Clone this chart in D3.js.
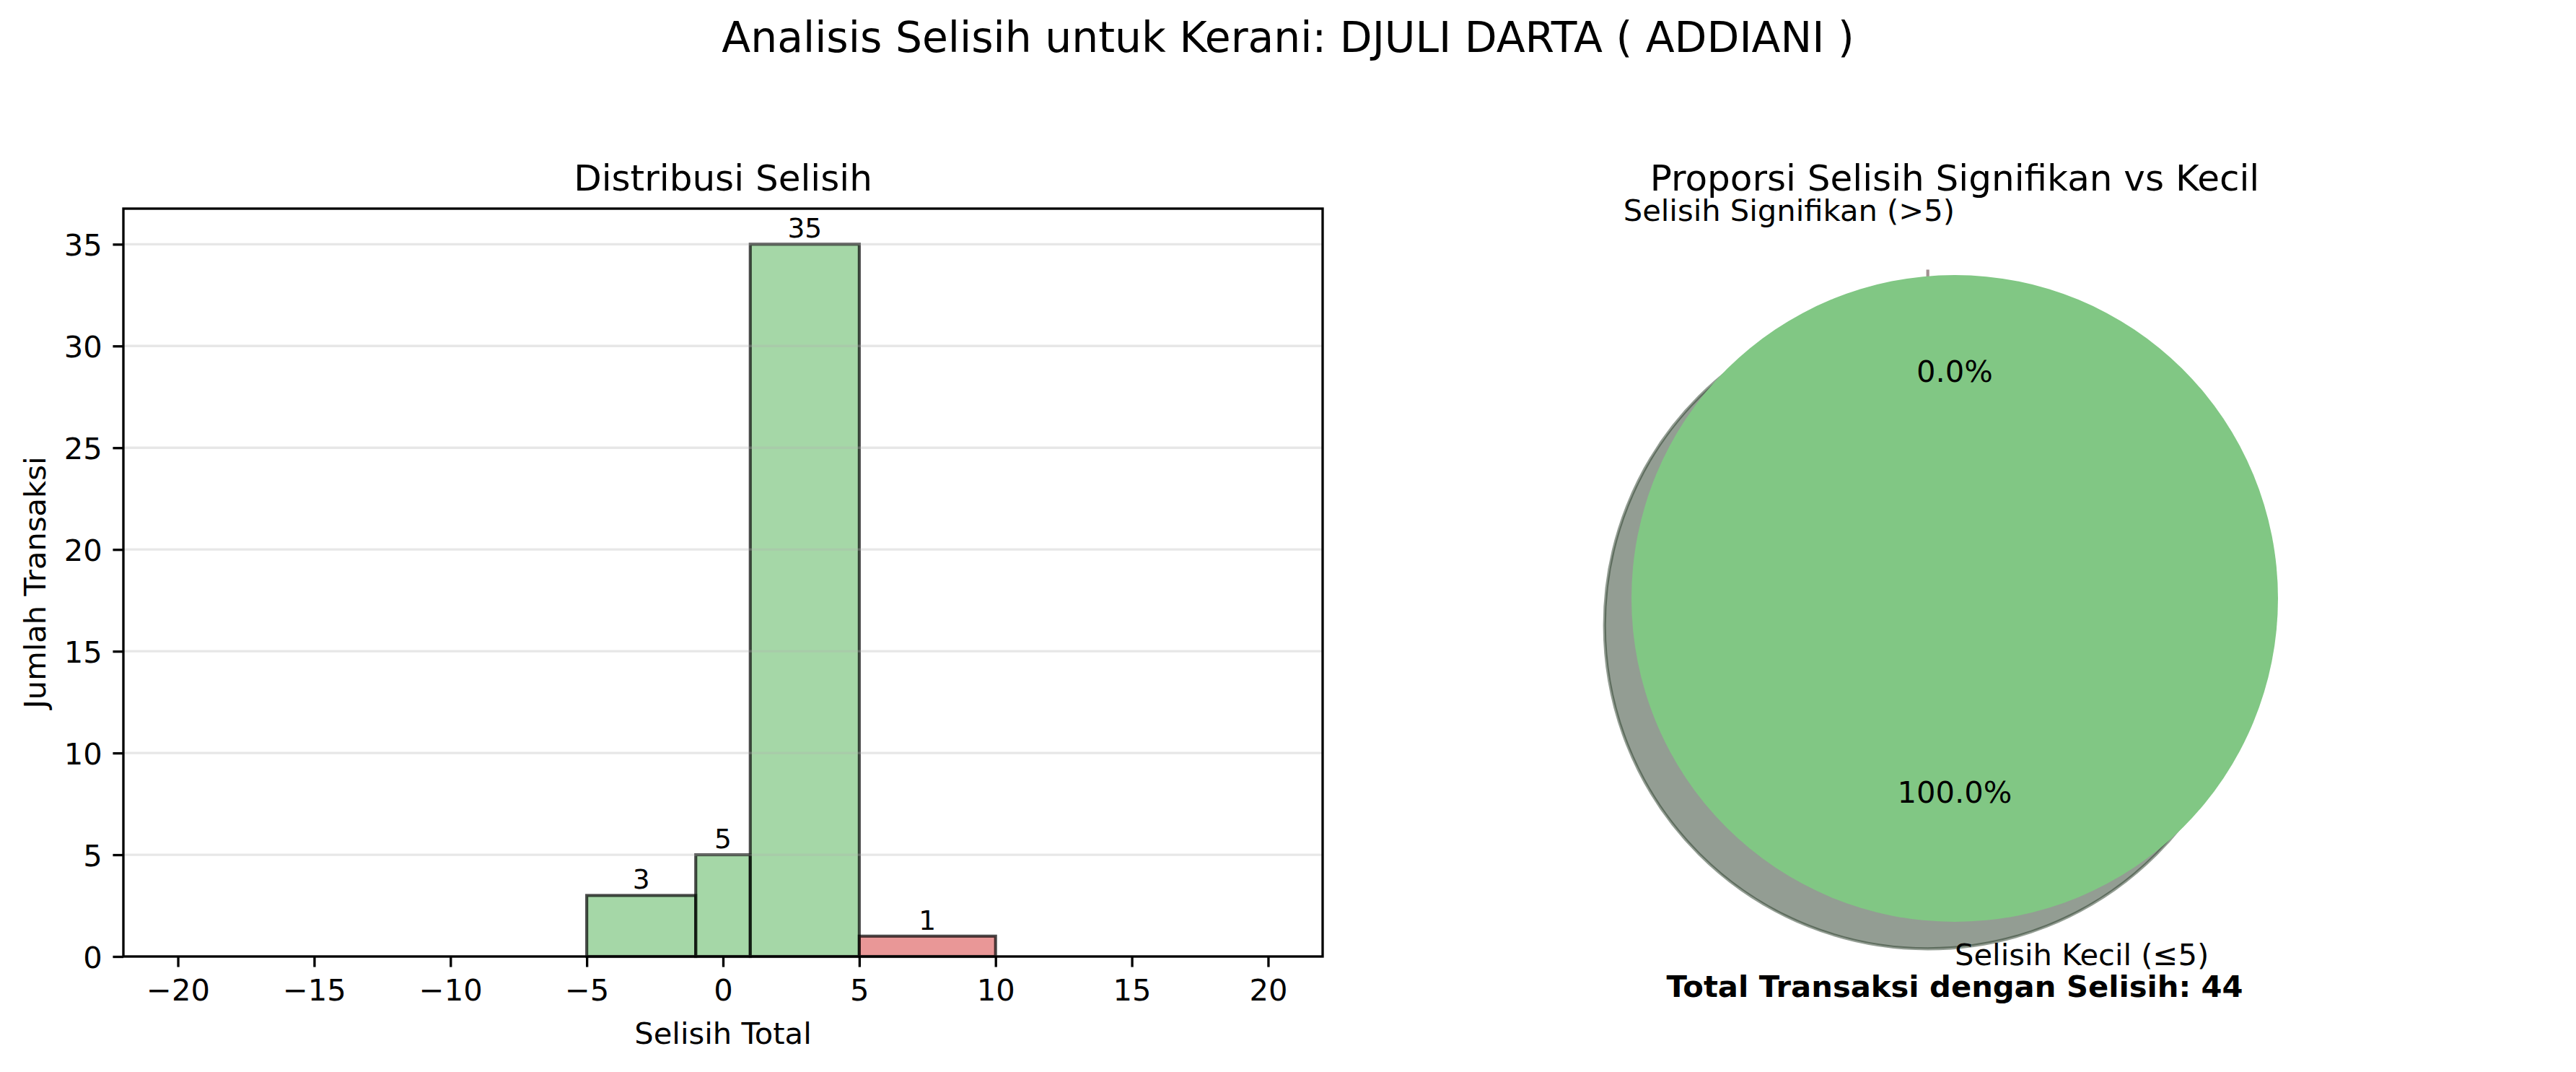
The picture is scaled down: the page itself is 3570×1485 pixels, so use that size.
<!DOCTYPE html>
<html>
<head>
<meta charset="utf-8">
<script src="https://cdn.jsdelivr.net/npm/d3@7"></script>
<style>
  body { margin: 0; background: #fff; }
  text { font-family: "DejaVu Sans", sans-serif; fill: #000; }
</style>
</head>
<body>
<div id="chart"></div>
<script>
// data
var suptitle = "Analisis Selisih untuk Kerani: DJULI DARTA ( ADDIANI )";
var binEdges = [-20, -10, -5, -1, 1, 5, 10, 20];
var binCounts = [0, 0, 3, 5, 35, 1, 0];
var xTicks = [-20, -15, -10, -5, 0, 5, 10, 15, 20];
var yTicks = [0, 5, 10, 15, 20, 25, 30, 35];
var pieLabels = ["Selisih Signifikan (>5)", "Selisih Kecil (\u22645)"];
var pieValues = [0, 44];
var pieColors = ["#e57373", "#81c784"];
var pieExplode = [0.1, 0];
var totalText = "Total Transaksi dengan Selisih: 44";

var W = 3570, H = 1485;
var pt = 300 / 72; // px per point

var svg = d3.select("#chart").append("svg")
  .attr("width", W).attr("height", H);
svg.append("rect").attr("width", W).attr("height", H).attr("fill", "#fff");

svg.append("text")
  .attr("x", 1785).attr("y", 72)
  .attr("text-anchor", "middle")
  .style("font-size", (14 * pt) + "px")
  .text(suptitle);

// ---------- histogram ----------
var axL = 171, axR = 1833, axT = 289, axB = 1325;
var x = d3.scaleLinear().domain([-22, 22]).range([axL, axR]);
var y = d3.scaleLinear().domain([0, 36.75]).range([axB, axT]);

var bins = binCounts.map(function(c, i) {
  return { x0: binEdges[i], x1: binEdges[i + 1], n: c };
});

var h = svg.append("g");

h.selectAll("rect.bar")
  .data(bins)
  .enter().append("rect")
  .attr("class", "bar")
  .attr("x", function(d) { return x(d.x0); })
  .attr("width", function(d) { return x(d.x1) - x(d.x0); })
  .attr("y", function(d) { return y(d.n); })
  .attr("height", function(d) { return y(0) - y(d.n); })
  .attr("fill", function(d) { return (d.x0 >= -5 && d.x1 <= 5) ? "#4caf50" : "#d32f2f"; })
  .attr("fill-opacity", 0.5)
  .attr("stroke", "#000")
  .attr("stroke-opacity", 0.7)
  .attr("stroke-width", 1 * pt);

// grid on y (drawn over the bars, faint)
h.selectAll("line.grid")
  .data(yTicks)
  .enter().append("line")
  .attr("x1", axL).attr("x2", axR)
  .attr("y1", function(d) { return y(d); })
  .attr("y2", function(d) { return y(d); })
  .attr("stroke", "#b0b0b0")
  .attr("stroke-opacity", 0.3)
  .attr("stroke-width", 0.8 * pt);

// value labels
h.selectAll("text.val")
  .data(bins.filter(function(d) { return d.n > 0; }))
  .enter().append("text")
  .attr("x", function(d) { return x((d.x0 + d.x1) / 2); })
  .attr("y", function(d) { return y(d.n) - 9; })
  .attr("text-anchor", "middle")
  .style("font-size", (9 * pt) + "px")
  .text(function(d) { return d.n; });

var fmt = function(d) { return d < 0 ? "\u2212" + Math.abs(d) : "" + d; };

var xAxis = h.append("g")
  .attr("transform", "translate(0," + axB + ")")
  .call(d3.axisBottom(x).tickValues(xTicks).tickFormat(fmt)
    .tickSize(3.5 * pt).tickPadding(3.5 * pt).tickSizeOuter(0));
var yAxis = h.append("g")
  .attr("transform", "translate(" + axL + ",0)")
  .call(d3.axisLeft(y).tickValues(yTicks)
    .tickSize(3.5 * pt).tickPadding(3.5 * pt).tickSizeOuter(0));

[xAxis, yAxis].forEach(function(a) {
  a.select(".domain").remove();
  a.selectAll(".tick line").attr("stroke", "#000").attr("stroke-width", 0.8 * pt);
  a.selectAll(".tick text")
    .style("font-size", (10 * pt) + "px")
    .style("font-family", "DejaVu Sans");
});
xAxis.selectAll(".tick text").attr("dy", "0.76em");
yAxis.selectAll(".tick text").attr("dy", "0.36em");

// spines
h.append("rect")
  .attr("x", axL).attr("y", axT)
  .attr("width", axR - axL).attr("height", axB - axT)
  .attr("fill", "none").attr("stroke", "#000").attr("stroke-width", 0.8 * pt);

h.append("text")
  .attr("x", (axL + axR) / 2).attr("y", axT - 6 * pt)
  .attr("text-anchor", "middle")
  .style("font-size", (12 * pt) + "px")
  .text("Distribusi Selisih");

h.append("text")
  .attr("x", (axL + axR) / 2).attr("y", 1446)
  .attr("text-anchor", "middle")
  .style("font-size", (10 * pt) + "px")
  .text("Selisih Total");

h.append("text")
  .attr("transform", "translate(63," + ((axT + axB) / 2) + ") rotate(-90)")
  .attr("text-anchor", "middle")
  .style("font-size", (10 * pt) + "px")
  .text("Jumlah Transaksi");

// ---------- pie ----------
var cx = 2709, cy = 829, r = 448;
var shadowOff = 0.02 * pt * r; // matplotlib shadow shift

var pie = d3.pie().sort(null).value(function(d) { return d; })
  .startAngle(0).endAngle(2 * Math.PI)(pieValues);
var arc = d3.arc().innerRadius(0).outerRadius(r);

var p = svg.append("g").attr("transform", "translate(" + cx + "," + cy + ")");

function offset(d, i) {
  var mid = (d.startAngle + d.endAngle) / 2;
  var e = pieExplode[i] * r;
  return [Math.sin(mid) * e, -Math.cos(mid) * e];
}

function shade(i) {
  var c = d3.rgb(pieColors[i]);
  return d3.rgb(c.r * 0.3, c.g * 0.3, c.b * 0.3).toString();
}

// shadows under all wedges
p.selectAll("path.shadow")
  .data(pie)
  .enter().append("path")
  .attr("class", "shadow")
  .attr("transform", function(d, i) {
    var o = offset(d, i);
    return "translate(" + (o[0] - shadowOff) + "," + (o[1] + shadowOff) + ")";
  })
  .attr("d", arc)
  .attr("fill", function(d, i) { return shade(i); })
  .attr("fill-opacity", 0.5)
  .attr("stroke", function(d, i) { return shade(i); })
  .attr("stroke-opacity", 0.5)
  .attr("stroke-width", 1 * pt);

p.selectAll("path.wedge")
  .data(pie)
  .enter().append("path")
  .attr("class", "wedge")
  .attr("transform", function(d, i) {
    var o = offset(d, i);
    return "translate(" + o[0] + "," + o[1] + ")";
  })
  .attr("d", arc)
  .attr("fill", function(d, i) { return pieColors[i]; });

// labels outside (1.1 r) and percentages (0.6 r)
var total = d3.sum(pieValues);
p.selectAll("text.lab")
  .data(pie)
  .enter().append("text")
  .attr("class", "lab")
  .attr("x", function(d, i) { return offset(d, i)[0]; })
  .attr("y", function(d, i) {
    var mid = (d.startAngle + d.endAngle) / 2;
    return offset(d, i)[1] - Math.cos(mid) * 1.1 * r;
  })
  .attr("dy", "0.36em")
  .attr("text-anchor", function(d, i) { return i === 0 ? "end" : "start"; })
  .style("font-size", (10 * pt) + "px")
  .text(function(d, i) { return pieLabels[i]; });

p.selectAll("text.pct")
  .data(pie)
  .enter().append("text")
  .attr("class", "pct")
  .attr("x", function(d, i) { return offset(d, i)[0]; })
  .attr("y", function(d, i) {
    var mid = (d.startAngle + d.endAngle) / 2;
    return offset(d, i)[1] - Math.cos(mid) * 0.6 * r;
  })
  .attr("dy", "0.33em")
  .attr("text-anchor", "middle")
  .style("font-size", (10 * pt) + "px")
  .text(function(d) { return (100 * d.value / total).toFixed(1) + "%"; });

svg.append("text")
  .attr("x", cx).attr("y", axT - 6 * pt)
  .attr("text-anchor", "middle")
  .style("font-size", (12 * pt) + "px")
  .text("Proporsi Selisih Signifikan vs Kecil");

svg.append("text")
  .attr("x", cx).attr("y", 1366)
  .attr("dy", "0.36em")
  .attr("text-anchor", "middle")
  .style("font-size", (10 * pt) + "px")
  .style("font-weight", "bold")
  .text(totalText);
</script>
</body>
</html>
